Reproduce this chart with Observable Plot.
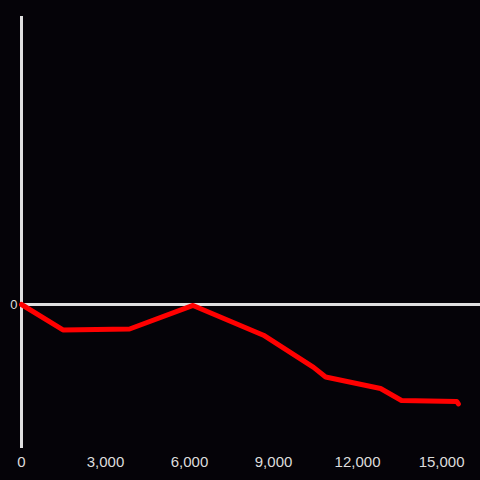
<!DOCTYPE html>
<html>
<head>
<meta charset="utf-8">
<script src="https://cdn.jsdelivr.net/npm/d3@7"></script>
<script src="https://cdn.jsdelivr.net/npm/@observablehq/plot@0.6"></script>
<style>
  html, body { margin: 0; padding: 0; background: #050308; }
  #chart { width: 480px; height: 480px; }
</style>
</head>
<body>
<div id="chart"></div>
<script>
const xValues = [0, 1480, 3860, 6125, 8640, 10430, 10860, 12820, 13570, 15540, 15600];
const yValues = [0, -26.5, -25.5, -1, -32, -65.5, -75.5, -87.5, -100, -101, -103.6];
const xTicks = [0, 3000, 6000, 9000, 12000, 15000];
const yTicks = [0];

const data = xValues.map((x, i) => ({x, y: yValues[i]}));

const chart = Plot.plot({
  width: 480,
  height: 480,
  marginLeft: 21,
  marginRight: 0,
  marginTop: 16,
  marginBottom: 32,
  style: {background: "#050308", color: "#dddddd", fontFamily: "'Liberation Sans', Arial, sans-serif"},
  x: {domain: [0, 16390]},
  y: {domain: [-150, 300]},
  marks: [
    Plot.axisX({ticks: xTicks, tickSize: 0, tickPadding: 8, tickFormat: d3.format(","), fontSize: 15, fill: "#dddddd", label: null}),
    Plot.axisY({ticks: yTicks, tickSize: 0, tickPadding: 4, fontSize: 13, fill: "#dddddd", label: null}),
    Plot.ruleX([0], {stroke: "#e0e0e0", strokeWidth: 3}),
    Plot.ruleY([0], {stroke: "#e0e0e0", strokeWidth: 3}),
    Plot.line(data, {x: "x", y: "y", stroke: "#ff0000", strokeWidth: 5, strokeLinejoin: "round"})
  ]
});
document.getElementById("chart").appendChild(chart);
</script>
</body>
</html>
